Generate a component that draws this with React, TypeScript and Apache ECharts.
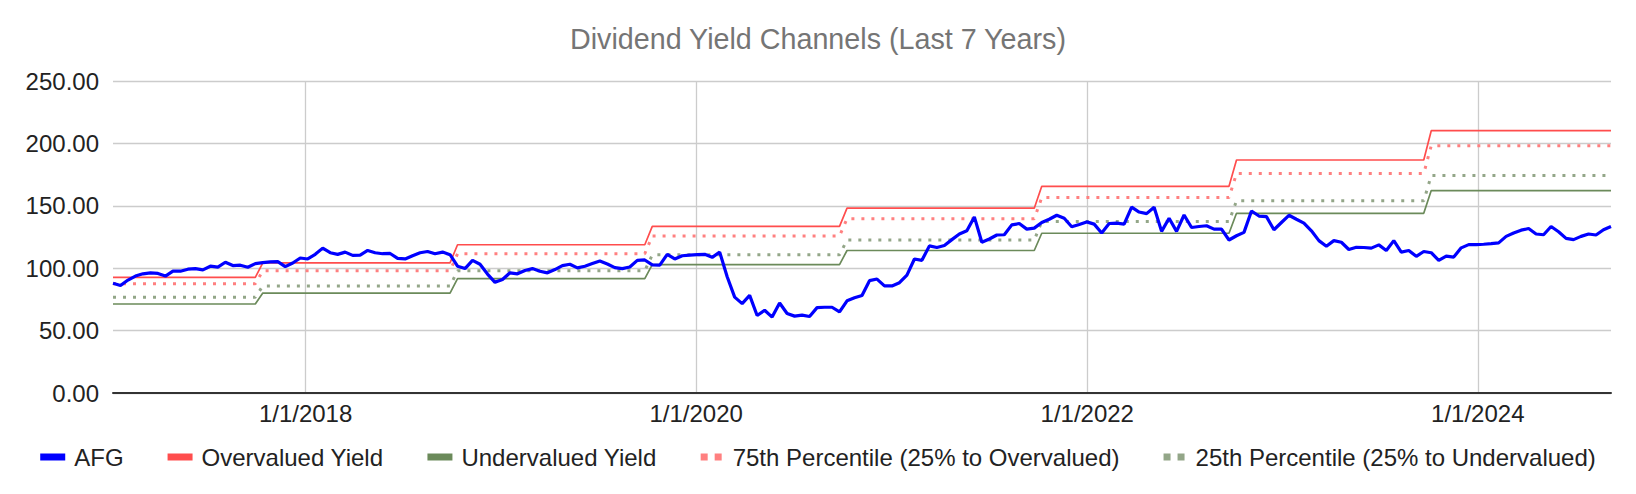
import * as echarts from 'echarts';
import { useEffect, useRef } from 'react';

// biweekly closes, first one on 2017-01-06
const START = [2017, 0, 6];
const STEP_DAYS = 14;

const AFG = [
  87.9, 86.1, 90.5, 93.7, 95.5, 96.3, 95.8, 93.7, 97.6, 97.6,
  99.2, 99.7, 98.7, 101.6, 100.8, 104.8, 102.1, 102.4, 100.8, 103.7,
  104.5, 105.0, 105.3, 101.3, 104.2, 108.2, 107.4, 111.1, 116.1, 112.4,
  111.1, 112.9, 110.3, 110.5, 114.2, 112.4, 111.6, 111.8, 107.9, 107.4,
  110.0,
  112.4, 113.4, 111.6, 112.9, 110.8, 101.6, 99.7, 106.3, 103.2, 95.3,
  88.7, 91.0, 96.3, 95.5, 98.2, 99.7, 97.6, 96.3, 98.9, 102.1,
  103.2, 100.3, 101.6, 103.7, 105.8, 103.4, 100.5, 99.7, 101.0, 106.3,
  106.6, 102.6, 102.4, 111.1, 107.4, 110.0, 110.5, 110.8, 111.1, 108.7,
  112.9, 93.2, 76.8, 71.6, 78.2, 62.1, 66.3, 60.8, 72.1, 63.7,
  61.6, 62.4, 61.3, 68.4, 68.7, 68.7, 65.0, 73.9, 76.3, 78.2,
  90.0, 91.3, 85.8, 85.8, 88.4, 94.5, 107.4, 106.3, 117.9, 116.6,
  118.2, 122.9, 127.4, 130.0, 141.1, 120.8, 123.4, 126.6, 126.8, 134.7,
  135.8, 131.3, 132.1, 136.6, 139.2, 142.4, 140.0, 133.2, 135.0, 137.1,
  135.3, 128.2, 135.8, 136.1, 135.3, 148.9, 145.0, 143.7, 148.9, 129.5,
  140.0, 129.5, 142.6, 132.6, 133.4, 134.0, 131.3, 131.3, 122.6, 126.0,
  128.7, 145.8, 141.8, 141.3, 130.8, 136.6, 142.4, 139.2, 136.1, 130.0,
  122.1, 117.6, 122.1, 120.8, 115.0, 116.8, 116.6, 116.1, 118.7, 114.2,
  122.1, 112.9, 114.2, 109.5, 113.4, 112.4, 106.3, 109.7, 108.9, 116.3,
  118.9, 118.9, 119.2, 119.7, 120.3, 125.5, 128.2, 130.5, 131.8, 127.4,
  126.8, 133.4, 129.2, 123.9, 122.9, 125.5, 127.4, 126.6, 130.8, 133.4
];

// index of the first point of each new yearly channel level
const STEP_INDEX = [20, 46, 72, 98, 124, 150, 176];
const OVERVALUED = [92.7, 104.3, 118.8, 133.5, 148.1, 165.6, 186.7, 210.2];
const P75 = [87.6, 97.9, 111.6, 125.9, 139.6, 156.6, 175.8, 198.2];
const P25 = [76.7, 85.8, 98.0, 110.7, 122.5, 137.4, 154.0, 174.2];
const UNDERVALUED = [71.3, 80.1, 91.6, 102.9, 114.2, 128.0, 144.0, 162.2];

const X_TICK_YEARS = [2018, 2020, 2022, 2024];
const Y_MAX = 250;
const Y_STEP = 50;

const FONT = '"Liberation Sans", Arial, sans-serif';
const DOTS = 'path://M0,0H8V8H0ZM16,0H24V8H16Z';

function dateAt(i: number) {
  return new Date(START[0], START[1], START[2] + STEP_DAYS * i).getTime();
}

function channel(levels: number[]) {
  return AFG.map((_, i) => {
    let k = 0;
    while (k < STEP_INDEX.length && i >= STEP_INDEX[k]) k++;
    return [dateAt(i), levels[k]];
  });
}

export default function App() {
  const elRef = useRef<HTMLDivElement | null>(null);

  useEffect(() => {
    document.body.style.margin = '0';
    if (!elRef.current) return;
    const chart = echarts.init(elRef.current, undefined, { renderer: 'svg' });

    const ticks = X_TICK_YEARS.map((y) => new Date(y, 0, 1).getTime());
    const line = (name: string, data: any[], color: string, width: number, type: any, z = 2) => ({
      name,
      type: 'line',
      data,
      color,
      showSymbol: false,
      symbol: 'none',
      z,
      lineStyle: { color, width, type, cap: 'butt' },
      emphasis: { disabled: true }
    });

    chart.setOption({
      animation: false,
      textStyle: { fontFamily: FONT },
      title: {
        text: 'Dividend Yield Channels (Last 7 Years)',
        left: 'center',
        top: 19,
        textStyle: { fontFamily: FONT, fontSize: 28.7, fontWeight: 'normal', color: '#757575' }
      },
      grid: { left: 113, right: 25, top: 81, bottom: 101, containLabel: false },
      legend: {
        bottom: 20,
        left: 'center',
        itemWidth: 25,
        itemHeight: 7,
        itemGap: 44,
        textStyle: { fontFamily: FONT, fontSize: 24, color: '#222', padding: [0, 0, 0, 4] },
        data: [
          { name: 'AFG', icon: 'rect' },
          { name: 'Overvalued Yield', icon: 'rect' },
          { name: 'Undervalued Yield', icon: 'rect' },
          { name: '75th Percentile (25% to Overvalued)', icon: DOTS },
          { name: '25th Percentile (25% to Undervalued)', icon: DOTS }
        ]
      },
      xAxis: {
        type: 'value',
        min: dateAt(0),
        max: dateAt(AFG.length - 1),
        axisLine: { show: true, onZero: false, lineStyle: { color: '#333', width: 2 } },
        axisTick: { show: false, customValues: ticks },
        axisLabel: {
          customValues: ticks,
          fontFamily: FONT,
          fontSize: 24,
          color: '#222',
          margin: 8,
          formatter: (v: number) => {
            const d = new Date(v);
            return `${d.getMonth() + 1}/${d.getDate()}/${d.getFullYear()}`;
          }
        },
        splitLine: { show: true, lineStyle: { color: '#ccc', width: 1.3 } }
      },
      yAxis: {
        type: 'value',
        min: 0,
        max: Y_MAX,
        interval: Y_STEP,
        axisLine: { show: false },
        axisTick: { show: false },
        axisLabel: {
          fontFamily: FONT,
          fontSize: 24,
          color: '#222',
          margin: 14,
          formatter: (v: number) => v.toFixed(2)
        },
        splitLine: { lineStyle: { color: '#ccc', width: 1.3 } }
      },
      series: [
        line('AFG', AFG.map((v, i) => [dateAt(i), v]), '#0000ff', 3.2, 'solid', 5),
        line('Overvalued Yield', channel(OVERVALUED), '#ff4d4d', 1.7, 'solid'),
        line('Undervalued Yield', channel(UNDERVALUED), '#6b8a5a', 1.7, 'solid'),
        line('75th Percentile (25% to Overvalued)', channel(P75), '#ff8080', 3, [3, 7]),
        line('25th Percentile (25% to Undervalued)', channel(P25), '#93a688', 3, [3, 7])
      ]
    });

    return () => chart.dispose();
  }, []);

  return <div ref={elRef} style={{ width: 1636, height: 494 }} />;
}
